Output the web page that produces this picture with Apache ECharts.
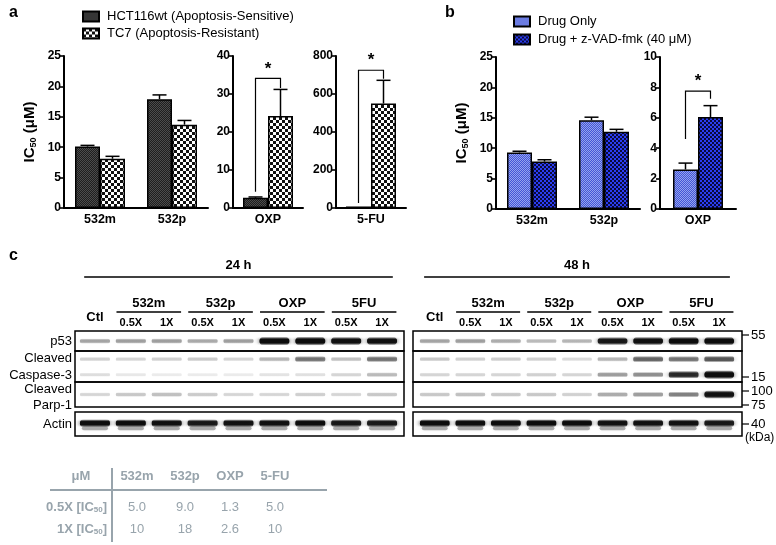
<!DOCTYPE html>
<html><head><meta charset="utf-8">
<script src="https://cdn.jsdelivr.net/npm/echarts@6/dist/echarts.min.js"></script>
<style>html,body{margin:0;padding:0;background:#fff}#c{width:776px;height:545px}</style>
</head><body><div id="c"></div>
<script>
// ---------------- DATA ----------------
const catsA = ['532m', '532p'];
const hctA = [10.1, 17.9];
const hctAErr = [0.2, 0.7];
const tc7A = [8.1, 13.7];
const tc7AErr = [0.4, 0.7];
const catOXP = ['OXP'];
const hctOXP = [2.7];
const hctOXPErr = [0.2];
const tc7OXP = [24.2];
const tc7OXPErr = [7.0];
const cat5FU = ['5-FU'];
const hct5FU = [8];
const hct5FUErr = [0];
const tc75FU = [550];
const tc75FUErr = [122];
const sigOXPa = [34.1, 4.3, 31.6];   // bracket top, left foot, right foot
const sig5FUa = [725, 26, 680];
const catsB = ['532m', '532p'];
const drugB = [9.3, 14.6];
const drugBErr = [0.2, 0.5];
const zvadB = [7.8, 12.7];
const zvadBErr = [0.3, 0.4];
const catOXPb = ['OXP'];
const drugOXPb = [2.6];
const drugOXPbErr = [0.42];
const zvadOXPb = [6.05];
const zvadOXPbErr = [0.75];
const sigOXPb = [7.75, 4.6, 7.25];
const ticksA1 = [0, 25, 5];
const ticksA2 = [0, 40, 10];
const ticksA3 = [0, 800, 200];
const ticksB1 = [0, 25, 5];
const ticksB2 = [0, 10, 2];

// western blot lanes and band intensities (0..1)
const lanes = ['Ctl', '532m 0.5X', '532m 1X', '532p 0.5X', '532p 1X', 'OXP 0.5X', 'OXP 1X', '5FU 0.5X', '5FU 1X'];
const laneGroups = ['532m', '532p', 'OXP', '5FU'];
const timepoints = ['24 h', '48 h'];
const bandRows = ['p53', 'Cleaved Caspase-3 (upper)', 'Cleaved Caspase-3 (lower)', 'Cleaved Parp-1', 'Actin'];
const bandPos = [9.6, 26.8, 41.6, 60.5, 87.8]; // migration, % of gel window
const p53_24h = [0.28, 0.3, 0.3, 0.26, 0.3, 0.95, 1.0, 0.9, 0.9];
const casU_24h = [0.12, 0.1, 0.12, 0.14, 0.1, 0.22, 0.45, 0.18, 0.45];
const casL_24h = [0.07, 0.03, 0.02, 0.02, 0.02, 0.05, 0.06, 0.1, 0.2];
const parp_24h = [0.1, 0.15, 0.18, 0.14, 0.1, 0.1, 0.13, 0.1, 0.15];
const actin_24h = [0.95, 0.95, 0.9, 0.85, 0.9, 0.9, 0.95, 0.85, 0.85];
const p53_48h = [0.28, 0.3, 0.25, 0.2, 0.22, 0.85, 0.9, 0.95, 0.95];
const casU_48h = [0.15, 0.12, 0.13, 0.12, 0.08, 0.22, 0.5, 0.45, 0.55];
const casL_48h = [0.1, 0.1, 0.1, 0.12, 0.1, 0.3, 0.35, 0.75, 1.0];
const parp_48h = [0.15, 0.18, 0.15, 0.15, 0.12, 0.25, 0.3, 0.4, 0.9];
const actin_48h = [0.95, 0.95, 0.95, 0.95, 0.95, 0.9, 0.9, 0.9, 0.85];
const mwMarkers = ['55', '15', '100', '75', '40'];

// table
const tableHead = ['532m', '532p', 'OXP', '5-FU'];
const tableRow05 = ['5.0', '9.0', '1.3', '5.0'];
const tableRow1 = ['10', '18', '2.6', '10'];

// ---------------- STYLE / LAYOUT ----------------
const FONT = 'Liberation Sans, Arial, Helvetica, sans-serif';
function pat(size, draw) {
  const c = document.createElement('canvas'); c.width = c.height = size;
  const g = c.getContext('2d'); draw(g); return { image: c, repeat: 'repeat' };
}
const pHCT = pat(2, g => { g.fillStyle = '#1e1e1e'; g.fillRect(0, 0, 2, 2); g.fillStyle = '#4c4c4c'; g.fillRect(0, 0, 1, 1); g.fillRect(1, 1, 1, 1); });
const pTC7 = pat(6, g => { g.fillStyle = '#fff'; g.fillRect(0, 0, 6, 6); g.fillStyle = '#111'; g.fillRect(0, 0, 3, 3); g.fillRect(3, 3, 3, 3); });
const pDrug = pat(2, g => { g.fillStyle = '#4255d6'; g.fillRect(0, 0, 2, 2); g.fillStyle = '#95a3ee'; g.fillRect(0, 0, 1, 1); g.fillRect(1, 1, 1, 1); });
const pZvad = pat(4, g => { g.fillStyle = '#0a0a3c'; g.fillRect(0, 0, 4, 4); g.fillStyle = '#2b3ef2'; g.fillRect(0, 0, 2, 2); g.fillRect(2, 2, 2, 2); });

const nHCT = 'HCT116wt (Apoptosis-Sensitive)';
const nTC7 = 'TC7 (Apoptosis-Resistant)';
const nDrug = 'Drug Only';
const nZ = 'Drug + z-VAD-fmk (40 μM)';

const barGrids = [
  { left: 64, top: 56, width: 144, height: 152 },
  { left: 233, top: 56, width: 70, height: 152 },
  { left: 336, top: 56, width: 70, height: 152 },
  { left: 496, top: 57, width: 144, height: 152 },
  { left: 660, top: 57, width: 76, height: 152 }
];
const blotGrids = [
  { left: 77, top: 331, width: 323, height: 105 },
  { left: 417, top: 331, width: 320, height: 105 }
];
const BW = 25;
const ic50Name = '{a|IC}{s|50}{a| (μM)}';
const ic50Rich = {
  a: { fontSize: 15, fontWeight: 'bold', fontFamily: FONT, color: '#000', lineHeight: 18 },
  s: { fontSize: 9, fontWeight: 'bold', fontFamily: FONT, color: '#000', lineHeight: 18, padding: [7, 0, 0, 0] }
};

function yAx(gi, t, named) {
  const o = {
    gridIndex: gi, type: 'value', min: t[0], max: t[1], interval: t[2],
    axisLine: { show: true, lineStyle: { color: '#000', width: 2 } },
    axisTick: { show: true, length: 4, lineStyle: { color: '#000', width: 1.6 } },
    axisLabel: { color: '#000', fontWeight: 'bold', fontSize: 12, fontFamily: FONT, margin: 3 },
    splitLine: { show: false }
  };
  if (named) {
    Object.assign(o, { name: ic50Name, nameLocation: 'middle', nameRotate: 90, nameGap: 25, nameTextStyle: { rich: ic50Rich } });
  }
  return o;
}
function xAx(gi, cats) {
  return {
    gridIndex: gi, type: 'category', data: cats,
    axisLine: { show: true, lineStyle: { color: '#000', width: 2 } },
    axisTick: { show: false },
    axisLabel: { color: '#000', fontWeight: 'bold', fontSize: 12.5, fontFamily: FONT, margin: 5 }
  };
}
function barS(gi, name, vals, fill) {
  return {
    type: 'bar', name, xAxisIndex: gi, yAxisIndex: gi, data: vals, barWidth: BW, barGap: '0%',
    itemStyle: { color: fill, borderColor: '#000', borderWidth: 1.5 }, silent: true, z: 2
  };
}
function errS(gi, vals, errs, offset) {
  return {
    type: 'custom', xAxisIndex: gi, yAxisIndex: gi, z: 4, silent: true,
    data: vals.map((v, i) => [i, v, errs[i]]),
    renderItem: (p, api) => {
      const e = api.value(2); if (!(e > 0)) return null;
      const p0 = api.coord([api.value(0), api.value(1)]);
      const p1 = api.coord([api.value(0), api.value(1) + e]);
      const cx = p0[0] + offset;
      return { type: 'group', children: [
        { type: 'line', shape: { x1: cx, y1: p0[1], x2: cx, y2: p1[1] }, style: { stroke: '#000', lineWidth: 1.5 } },
        { type: 'line', shape: { x1: cx - 7, y1: p1[1], x2: cx + 7, y2: p1[1] }, style: { stroke: '#000', lineWidth: 1.5 } }
      ] };
    }
  };
}
function sigS(gi, sig) {
  return {
    type: 'custom', xAxisIndex: gi, yAxisIndex: gi, z: 4, silent: true,
    data: [[0, sig[0], sig[1], sig[2]]],
    renderItem: (p, api) => {
      const t = api.coord([api.value(0), api.value(1)]);
      const l = api.coord([api.value(0), api.value(2)]);
      const r = api.coord([api.value(0), api.value(3)]);
      const xl = t[0] - BW / 2, xr = t[0] + BW / 2;
      return { type: 'group', children: [
        { type: 'polyline', shape: { points: [[xl, l[1]], [xl, t[1]], [xr, t[1]], [xr, r[1]]] }, style: { stroke: '#000', lineWidth: 1.2, fill: null } },
        { type: 'text', style: { text: '*', x: t[0], y: t[1] - 1, align: 'center', verticalAlign: 'bottom', font: 'bold 17px ' + FONT, fill: '#000' } }
      ] };
    }
  };
}
function bandS(gi, rows) {
  const data = [];
  rows.forEach((arr, r) => arr.forEach((v, i) => data.push([i, bandPos[r], v, r])));
  return {
    type: 'custom', xAxisIndex: gi, yAxisIndex: gi, z: 3, silent: true, data,
    renderItem: (p, api) => {
      const inten = api.value(2), r = api.value(3);
      const c = api.coord([api.value(0), api.value(1)]);
      const w = api.size([1, 0])[0] * 0.84;
      const h = r === 4 ? 8 : 4 + 5 * inten;
      const a = Math.min(1, 0.06 + 1.0 * inten);
      const col = x => 'rgba(12,12,12,' + x + ')';
      const fill = new echarts.graphic.LinearGradient(0, 0, 0, 1, [
        { offset: 0, color: col(0) }, { offset: 0.3, color: col(a) }, { offset: 0.7, color: col(a) }, { offset: 1, color: col(0) }]);
      const kids = [{ type: 'rect', shape: { x: c[0] - w / 2, y: c[1] - h / 2, width: w, height: h, r: h / 2 },
        style: { fill, shadowBlur: 5, shadowColor: col(a * 0.7) } }];
      if (r === 4) kids.push({ type: 'rect', shape: { x: c[0] - w / 2 + 2, y: c[1] + 3, width: w - 4, height: 4, r: 2 },
        style: { fill: col(0.3), shadowBlur: 3, shadowColor: col(0.3) } });
      return { type: 'group', children: kids };
    }
  };
}

const grids = barGrids.concat(blotGrids);
const xAxes = [xAx(0, catsA), xAx(1, catOXP), xAx(2, cat5FU), xAx(3, catsB), xAx(4, catOXPb)];
const yAxes = [yAx(0, ticksA1, true), yAx(1, ticksA2), yAx(2, ticksA3), yAx(3, ticksB1, true), yAx(4, ticksB2)];
[5, 6].forEach(gi => {
  xAxes.push({ gridIndex: gi, type: 'category', data: lanes, position: 'top',
    axisLine: { show: false }, axisTick: { show: false },
    axisLabel: { color: '#000', fontWeight: 'bold', fontSize: 11, fontFamily: FONT, margin: 3, interval: 0,
      formatter: v => v === 'Ctl' ? '' : v.split(' ')[1] } });
  yAxes.push({ gridIndex: gi, type: 'value', min: 0, max: 100, inverse: true, show: false });
});

const series = [
  barS(0, nHCT, hctA, pHCT), barS(0, nTC7, tc7A, pTC7), errS(0, hctA, hctAErr, -BW / 2), errS(0, tc7A, tc7AErr, BW / 2),
  barS(1, nHCT, hctOXP, pHCT), barS(1, nTC7, tc7OXP, pTC7), errS(1, hctOXP, hctOXPErr, -BW / 2), errS(1, tc7OXP, tc7OXPErr, BW / 2), sigS(1, sigOXPa),
  barS(2, nHCT, hct5FU, pHCT), barS(2, nTC7, tc75FU, pTC7), errS(2, hct5FU, hct5FUErr, -BW / 2), errS(2, tc75FU, tc75FUErr, BW / 2), sigS(2, sig5FUa),
  barS(3, nDrug, drugB, pDrug), barS(3, nZ, zvadB, pZvad), errS(3, drugB, drugBErr, -BW / 2), errS(3, zvadB, zvadBErr, BW / 2),
  barS(4, nDrug, drugOXPb, pDrug), barS(4, nZ, zvadOXPb, pZvad), errS(4, drugOXPb, drugOXPbErr, -BW / 2), errS(4, zvadOXPb, zvadOXPbErr, BW / 2), sigS(4, sigOXPb),
  bandS(5, [p53_24h, casU_24h, casL_24h, parp_24h, actin_24h]),
  bandS(6, [p53_48h, casU_48h, casL_48h, parp_48h, actin_48h])
];

const legendBase = { orient: 'vertical', icon: 'rect', itemWidth: 16, itemHeight: 10, padding: 0, selectedMode: false,
  textStyle: { fontSize: 13, color: '#000', fontFamily: FONT, padding: [0, 0, 0, 3] } };

const chart = echarts.init(document.getElementById('c'));
chart.setOption({
  animation: false,
  textStyle: { fontFamily: FONT },
  grid: grids,
  xAxis: xAxes,
  yAxis: yAxes,
  legend: [Object.assign({ data: [nHCT, nTC7], left: 82, top: 10, itemGap: 4 }, legendBase),
           Object.assign({ data: [nDrug, nZ], left: 513, top: 15, itemGap: 5 }, legendBase)],
  series
});

// ---------------- annotations ----------------
const G = [];
const txt = (t, x, y, font, align, fill, extra) => G.push(Object.assign({ type: 'text', silent: true,
  style: { text: t, x, y, font, align: align || 'center', verticalAlign: 'middle', fill: fill || '#000' } }, extra || {}));
const ln = (x1, y1, x2, y2, w, col) => G.push({ type: 'line', silent: true, shape: { x1, y1, x2, y2 }, style: { stroke: col || '#000', lineWidth: w || 1.5 } });
const box = (x, y, w, h) => G.push({ type: 'rect', silent: true, z: 10, shape: { x, y, width: w, height: h }, style: { fill: null, stroke: '#000', lineWidth: 1.5 } });

txt('a', 9, 13, 'bold 16px ' + FONT, 'left');
txt('b', 445, 13, 'bold 16px ' + FONT, 'left');
txt('c', 9, 256, 'bold 16px ' + FONT, 'left');

// blot headers
[5, 6].forEach((ai, k) => {
  const px = i => chart.convertToPixel({ xAxisIndex: ai }, i);
  const w = px(1) - px(0);
  const x0 = px(0) - 0.3 * w, x1 = px(8) + 0.3 * w;
  txt(timepoints[k], (x0 + x1) / 2, 265, 'bold 13px ' + FONT);
  ln(x0, 277, x1, 277, 1.5);
  txt('Ctl', px(0), 317, 'bold 13px ' + FONT);
  laneGroups.forEach((g, j) => {
    const a = px(2 * j + 1), b = px(2 * j + 2);
    txt(g, (a + b) / 2, 303, 'bold 13px ' + FONT);
    ln(a - 0.4 * w, 312, b + 0.4 * w, 312, 1.5);
  });
});
// blot panel frames
[[75, 329], [413, 329]].forEach(([x, w]) => {
  box(x, 331, w, 20); box(x, 351, w, 31); box(x, 382, w, 25); box(x, 412, w, 24);
});
// row labels
const rl = 'normal 13px ' + FONT;
txt('p53', 72, 341, rl, 'right'); txt('Cleaved', 72, 358, rl, 'right'); txt('Caspase-3', 72, 375, rl, 'right');
txt('Cleaved', 72, 389, rl, 'right'); txt('Parp-1', 72, 405, rl, 'right'); txt('Actin', 72, 424, rl, 'right');
// MW markers
const mwY = [335, 377, 391, 405, 424];
mwMarkers.forEach((m, i) => { ln(742, mwY[i], 749, mwY[i], 1.2); txt(m, 751, mwY[i], 'normal 13px ' + FONT, 'left'); });
txt('(kDa)', 745, 438, 'normal 12px ' + FONT, 'left');

// table
const TG = '#98a4ac';
const tx = [137, 185, 230, 275];
txt('μM', 81, 476, 'bold 13px ' + FONT, 'center', TG);
tableHead.forEach((h, i) => txt(h, tx[i], 476, 'bold 13px ' + FONT, 'center', TG));
ln(50, 490, 327, 490, 2, TG);
ln(112, 468, 112, 542, 2, TG);
const rowLab = (pre, y) => G.push({ type: 'text', silent: true, style: { text: '{b|' + pre + ' [IC}{s|50}{b|]}', x: 107, y, align: 'right', verticalAlign: 'middle',
  rich: { b: { font: 'bold 13px ' + FONT, fill: TG, lineHeight: 16 }, s: { font: 'bold 8px ' + FONT, fill: TG, lineHeight: 16, padding: [6, 0, 0, 0] } } } });
rowLab('0.5X', 507); rowLab('1X', 529);
tableRow05.forEach((v, i) => txt(v, tx[i], 507, 'normal 13px ' + FONT, 'center', TG));
tableRow1.forEach((v, i) => txt(v, tx[i], 529, 'normal 13px ' + FONT, 'center', TG));

chart.setOption({ graphic: { elements: G } });
</script></body></html>
